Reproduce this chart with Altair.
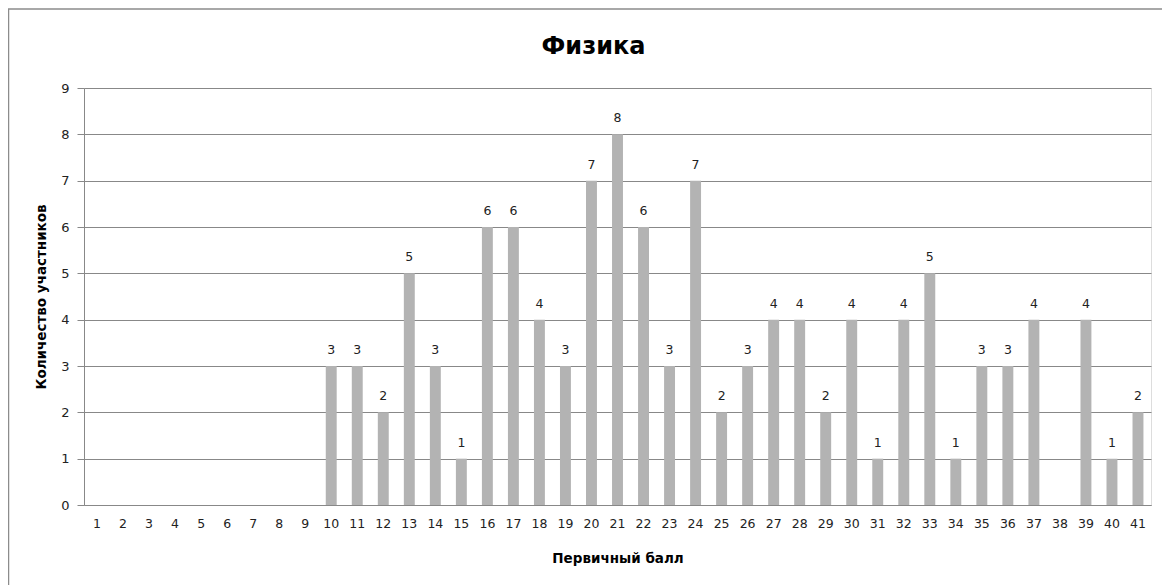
import altair as alt
import pandas as pd

scores = list(range(1, 42))
counts = [0, 0, 0, 0, 0, 0, 0, 0, 0,
          3, 3, 2, 5, 3, 1, 6, 6, 4, 3,
          7, 8, 6, 3, 7, 2, 3, 4, 4, 2,
          4, 1, 4, 5, 1, 3, 3, 4, 0, 4,
          1, 2]
title_text = "Физика"

df = pd.DataFrame({"score": scores, "count": counts})
df["label"] = df["count"].apply(lambda v: str(v) if v > 0 else "")

FONT = "DejaVu Sans"
W, H = 1067, 417

x = alt.X("score:O", sort=scores,
          scale=alt.Scale(paddingInner=0.58, paddingOuter=0.29),
          axis=alt.Axis(title="Первичный балл", labelAngle=0, ticks=False,
                        labelPadding=12, titlePadding=22, domainColor="#888888",
                        labelFont=FONT, labelFontSize=12.5, labelColor="#222222",
                        titleFont=FONT, titleFontSize=13.5, titleFontWeight="bold",
                        titleColor="#000000", grid=False))
y = alt.Y("count:Q",
          scale=alt.Scale(domain=[0, 9], nice=False),
          axis=alt.Axis(title="Количество участников", values=list(range(10)),
                        tickCount=10, tickSize=7, tickColor="#888888",
                        domainColor="#888888", gridColor="#888888", grid=True,
                        labelFont=FONT, labelFontSize=13, labelColor="#222222",
                        labelPadding=8, titlePadding=12,
                        titleFont=FONT, titleFontSize=13.5, titleFontWeight="bold",
                        titleColor="#000000"))

base = alt.Chart(df)

bars = base.mark_bar(color="#b3b3b3").encode(x=x, y=y)

labels = base.mark_text(font=FONT, fontSize=12.5, color="#222222",
                        baseline="bottom", dy=-9).encode(
    x=alt.X("score:O", sort=scores),
    y=alt.Y("count:Q"),
    text="label:N")

one = pd.DataFrame({"a": [0]})

frame = alt.Chart(one).mark_rect(
    fill=None, stroke="#8c8c8c", strokeWidth=1.5).encode(
    x=alt.value(-75.5), x2=alt.value(1200),
    y=alt.value(-79), y2=alt.value(600))

title = alt.Chart(one).mark_text(
    font=FONT, fontSize=24, fontWeight="bold", color="#000000",
    align="center", baseline="middle").encode(
    x=alt.value(W / 2 - 24), y=alt.value(-41), text=alt.value(title_text))

chart = alt.layer(frame, bars, labels, title).properties(
    width=W, height=H,
    autosize=alt.AutoSizeParams(type="none"),
    padding={"left": 76, "top": 80, "right": 11, "bottom": 80},
).configure_view(stroke=None).configure(background="white")

chart.save("out.html", embed_options={"renderer": "svg", "actions": False})
